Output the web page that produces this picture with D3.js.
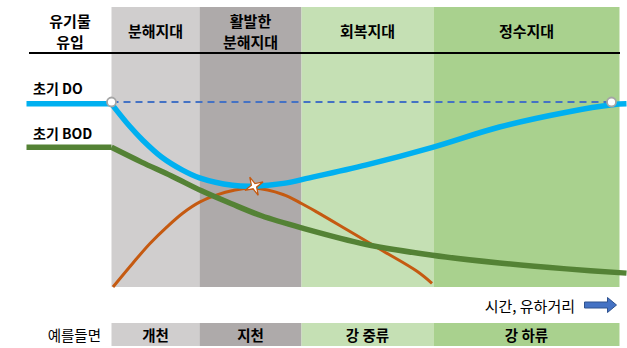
<!DOCTYPE html>
<html>
<head>
<meta charset="utf-8">
<script src="https://cdn.jsdelivr.net/npm/d3@7"></script>
<style>
  body { margin: 0; background: #fff; }
  svg { display: block; }
  text { font-family: "Noto Sans CJK KR", "Noto Sans", sans-serif; fill: #000; }
</style>
</head>
<body>
<svg id="chart" width="627" height="348"></svg>
<script>
// Zones along the river (distance from the point of organic inflow)
const zoneNames = [["분해지대"], ["활발한", "분해지대"], ["회복지대"], ["정수지대"]];
const zoneExamples = ["개천", "지천", "강 중류", "강 하류"];
const zoneBounds = [0, 88, 190, 322, 508];
const zoneColors = ["#d0cece", "#aeaaaa", "#c5e0b4", "#a9d18e"];

// Dissolved oxygen (DO) downstream of the inflow
const doDist   = [0, 18, 31, 50, 71, 88, 121, 142, 172, 198, 255, 321, 388, 455, 501, 515];
const doValues = [9.9, 8.7, 7.95, 7.03, 6.32, 5.9, 5.5, 5.45, 5.6, 5.9, 6.6, 7.55, 8.65, 9.45, 9.85, 9.9];
const doInitial = 9.9;

// Biochemical oxygen demand (BOD)
const bodDist   = [0, 30, 60, 90, 120, 150, 190, 255, 321, 388, 455, 515];
const bodValues = [7.55, 6.75, 6.0, 5.2, 4.5, 3.85, 3.2, 2.3, 1.72, 1.3, 0.98, 0.75];
const bodInitial = 7.55;

// Oxygen deficit curve
const defDist   = [1.5, 21.5, 38.5, 55.5, 71.5, 88.5, 105.5, 121.5, 141.5, 171.5, 190.5, 205.5, 238.5, 271.5, 305.5, 320.5];
const defValues = [0, 1.3, 2.35, 3.25, 4.0, 4.6, 4.98, 5.22, 5.35, 5.0, 4.5, 4.05, 3.0, 1.95, 0.85, 0.2];

// Saturation DO level and the critical point
const saturation = 10;
const saturationEnds = [0, 500];
const critical = { dist: 142.5, value: 5.45 };

const leadStart = -85;

const svg = d3.select("#chart");

const x = d3.scaleLinear().domain([-85, 515]).range([26.5, 626.5]);
const y = d3.scaleLinear().domain([0, 10]).range([287, 102]);

// Zone bands
const zones = zoneColors.map((c, i) => ({ x0: zoneBounds[i], x1: zoneBounds[i + 1], color: c, name: zoneNames[i], ex: zoneExamples[i] }));

svg.append("g").selectAll("rect").data(zones).join("rect")
  .attr("x", d => x(d.x0)).attr("width", d => x(d.x1) - x(d.x0))
  .attr("y", 7).attr("height", 287 - 7)
  .attr("fill", d => d.color);

// Example row at the bottom
svg.append("g").selectAll("rect").data(zones).join("rect")
  .attr("x", d => x(d.x0)).attr("width", d => x(d.x1) - x(d.x0))
  .attr("y", 323).attr("height", 23)
  .attr("fill", d => d.color);

svg.append("g").selectAll("text").data(zones).join("text")
  .attr("x", d => (x(d.x0) + x(d.x1)) / 2)
  .attr("y", 334)
  .attr("text-anchor", "middle").attr("dominant-baseline", "central")
  .attr("font-size", 14.5).attr("font-weight", "bold")
  .text(d => d.ex);

svg.append("text")
  .attr("x", 101).attr("y", 334)
  .attr("text-anchor", "end").attr("dominant-baseline", "central")
  .attr("font-size", 14.5)
  .text("예를들면");

// Header titles
const header = svg.append("g");
zones.forEach(d => {
  const cx = (x(d.x0) + x(d.x1)) / 2;
  const lines = d.name;
  const ys = lines.length === 1 ? [30.5] : [20, 41.5];
  lines.forEach((t, j) => {
    header.append("text")
      .attr("x", cx).attr("y", ys[j])
      .attr("text-anchor", "middle").attr("dominant-baseline", "central")
      .attr("font-size", 15).attr("font-weight", "bold")
      .text(t);
  });
});
[["유기물", 20], ["유입", 41.5]].forEach(([t, ty]) => {
  header.append("text")
    .attr("x", 70).attr("y", ty)
    .attr("text-anchor", "middle").attr("dominant-baseline", "central")
    .attr("font-size", 15).attr("font-weight", "bold")
    .text(t);
});

svg.append("line")
  .attr("x1", 29).attr("x2", 620).attr("y1", 53).attr("y2", 53)
  .attr("stroke", "#000").attr("stroke-width", 2);

// Saturation line
svg.append("line")
  .attr("x1", x(saturationEnds[0])).attr("x2", x(saturationEnds[1]))
  .attr("y1", y(saturation)).attr("y2", y(saturation))
  .attr("stroke", "#4472c4").attr("stroke-width", 2)
  .attr("stroke-dasharray", "7,5");

const curve = d3.line().x(d => x(d[0])).y(d => y(d[1])).curve(d3.curveCatmullRom.alpha(0.5));
const straight = d3.line().x(d => x(d[0])).y(d => y(d[1]));

function drawSeries(dist, vals, initial, color, width) {
  const pts = dist.map((d, i) => [d, vals[i]]);
  if (initial !== null) {
    svg.append("path")
      .attr("d", straight([[leadStart, initial], [dist[0], initial]]))
      .attr("fill", "none").attr("stroke", color).attr("stroke-width", width);
  }
  svg.append("path")
    .attr("d", curve(pts))
    .attr("fill", "none").attr("stroke", color).attr("stroke-width", width)
    .attr("stroke-linejoin", "round");
}

drawSeries(defDist, defValues, null, "#c55a11", 3);
drawSeries(bodDist, bodValues, bodInitial, "#548235", 5.5);
drawSeries(doDist, doValues, doInitial, "#00b0f0", 5.5);

// Saturation end markers
svg.append("g").selectAll("circle").data(saturationEnds).join("circle")
  .attr("cx", d => x(d)).attr("cy", y(saturation)).attr("r", 4.5)
  .attr("fill", "#fff").attr("stroke", "#a5a5a5").attr("stroke-width", 1.8);

// Critical point marker (four-point star)
const starPts = d3.range(8).map(i => {
  const a = (-115 + i * 45) * Math.PI / 180;
  const r = i % 2 === 0 ? 10 : 2.8;
  return [r * Math.cos(a), r * Math.sin(a)];
});
svg.append("path")
  .attr("transform", `translate(${x(critical.dist)},${y(critical.value)})`)
  .attr("d", "M" + starPts.map(p => p.join(",")).join("L") + "Z")
  .attr("fill", "#fff").attr("stroke", "#c55a11").attr("stroke-width", 1.3);

// Series labels
svg.append("text").attr("x", 33).attr("y", 88)
  .attr("dominant-baseline", "central").attr("font-size", 14).attr("font-weight", "bold")
  .text("초기 DO");
svg.append("text").attr("x", 33).attr("y", 133)
  .attr("dominant-baseline", "central").attr("font-size", 14).attr("font-weight", "bold")
  .text("초기 BOD");

// Direction of flow
svg.append("text").attr("x", 575).attr("y", 305)
  .attr("text-anchor", "end").attr("dominant-baseline", "central")
  .attr("font-size", 15)
  .text("시간, 유하거리");

const ax = 584.5, ay = 305;
svg.append("path")
  .attr("d", `M${ax},${ay - 3} L${ax + 23},${ay - 3} L${ax + 23},${ay - 7.5} L${ax + 32},${ay} L${ax + 23},${ay + 7.5} L${ax + 23},${ay + 3} L${ax},${ay + 3} Z`)
  .attr("fill", "#4472c4").attr("stroke", "#2f528f").attr("stroke-width", 1);
</script>
</body>
</html>
